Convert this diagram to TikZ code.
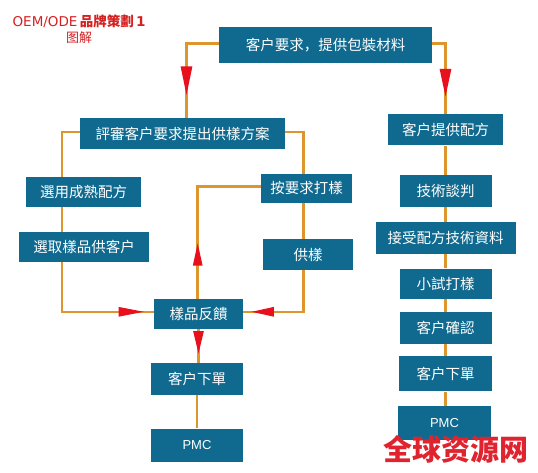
\documentclass[tikz,border=0pt]{standalone}
\usepackage{fontspec}
\usepackage{xcolor}
\usepackage{tikz}
\usetikzlibrary{arrows.meta,positioning,decorations.markings}
\setmainfont{Liberation Sans}
\newfontfamily\cjk{Noto Sans CJK SC}
\newfontfamily\titlefont{DejaVu Sans}
\definecolor{flowBlue}{HTML}{106A8F}
\definecolor{flowLine}{HTML}{DE952D}
\definecolor{flowRed}{HTML}{E8101C}
\definecolor{markRed}{HTML}{E0242F}
\definecolor{titleRed}{HTML}{D42020}

\begin{document}
\begin{tikzpicture}[
        box/.style 2 args={fill=flowBlue, text=white, inner sep=0pt, minimum width=#1, minimum height=#2, font=\fontsize{14.5pt}{16pt}\selectfont\cjk},
        code/.style={font=\fontsize{13pt}{16pt}\selectfont\normalfont},
        line/.style={draw=flowLine, line width=2.6pt},
        redtip/.style n args={3}{postaction={decorate}, decoration={markings, mark=at position #1 with {\arrow{Triangle[length=#2, width=#3, color=flowRed]}}}}
    ]
        \useasboundingbox (0,0) rectangle (538pt,-473pt);

        \node[text=titleRed, align=center, inner sep=0pt, font=\fontsize{13.5pt}{16pt}\selectfont] (title) at (79pt,-29pt) {{\titlefont OEM/ODE}\,{\cjk\bfseries 品牌策劃}\,{\titlefont\bfseries 1}\\{\cjk\fontsize{13pt}{16pt}\selectfont 图解}};

        \node[box={213pt}{36pt}] (request) at (325.5pt,-45pt) {客户要求，提供包裝材料};

        % left branch
        \node[box={205pt}{31pt}, below=55pt of request, xshift=-143pt] (review) {評審客户要求提出供樣方案};
        \node[box={115pt}{30pt}, below=27pt of review, xshift=-99pt] (mature) {選用成熟配方};
        \node[box={130pt}{30pt}, below=25pt of mature, xshift=0.5pt] (pick) {選取樣品供客户};
        \node[box={91pt}{29pt}, below=24pt of review, xshift=124pt] (remake) {按要求打樣};
        \node[box={90pt}{31pt}, below=36pt of remake, xshift=1.5pt] (supply) {供樣};
        \node[box={89pt}{30pt}, below=149pt of review, xshift=16pt] (feedback) {樣品反饋};
        \node[box={92pt}{32pt}, below=34pt of feedback, xshift=-1.5pt] (orderL) {客户下單};
        \node[box={92pt}{33pt}, code, below=33pt of orderL] (pmcL) {PMC};

        % right branch
        \node[box={115pt}{31pt}, below=51pt of request, xshift=120pt] (formula) {客户提供配方};
        \node[box={92pt}{32pt}, below=29pt of formula] (talks) {技術談判};
        \node[box={140pt}{32pt}, below=15pt of talks] (accept) {接受配方技術資料};
        \node[box={92pt}{30pt}, below=14pt of accept] (trial) {小試打樣};
        \node[box={92pt}{32pt}, below=13pt of trial] (confirm) {客户確認};
        \node[box={93pt}{35pt}, below=12pt of confirm] (orderR) {客户下單};
        \node[box={93pt}{34pt}, code, below=14pt of orderR, xshift=-1pt] (pmcR) {PMC};

        \node[text=markRed, inner sep=0pt, font=\fontsize{29pt}{30pt}\selectfont\cjk\bfseries] (watermark) at (456pt,-449pt) {全球资源网};

        \draw[line, redtip={84.5pt}{29pt}{11pt}] ([yshift=1.7pt]request.west) -| ([xshift=4pt]review.north);
        \draw[line, redtip={67pt}{28pt}{11pt}] ([yshift=1.7pt]request.east) -| (formula.north);
        \draw[line] ([yshift=2pt]review.west) -| ([xshift=-21.5pt]mature.north);
        \draw[line] ([xshift=-21.5pt]mature.south) -- ([xshift=-22pt]pick.north);
        \draw[line, redtip={132pt}{26pt}{9pt}] ([xshift=-22pt]pick.south) |- ([yshift=2pt]feedback.west);
        \draw[line] ([yshift=2pt]review.east) -| ([xshift=-3pt]remake.north);
        \draw[line] ([xshift=-3pt]remake.south) -- ([xshift=-4.5pt]supply.north);
        \draw[line, redtip={94pt}{23pt}{9pt}] ([xshift=-4.5pt]supply.south) |- ([yshift=2pt]feedback.east);
        \draw[line, redtip={56pt}{23pt}{9pt}] ([xshift=-0.8pt]feedback.north) |- ([yshift=1.5pt]remake.west);
        \draw[line, redtip={25pt}{23pt}{10pt}] (feedback.south) -- ([xshift=1.5pt]orderL.north);
        \draw[line] (orderL) -- (pmcL);
        \draw[line] (formula) -- (talks);
        \draw[line] (talks) -- (accept);
        \draw[line] (accept) -- (trial);
        \draw[line] (trial) -- (confirm);
        \draw[line] (confirm) -- (orderR);
        \draw[line] (orderR.south) -- ([xshift=1pt]pmcR.north);
    \end{tikzpicture}
\end{document}
